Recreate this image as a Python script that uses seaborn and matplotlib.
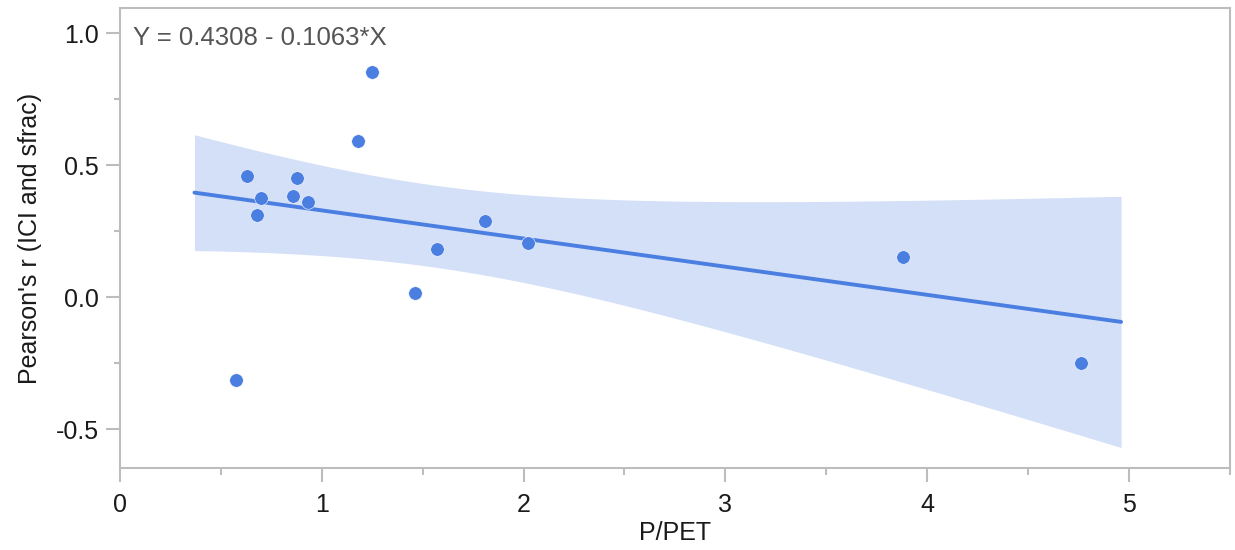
import matplotlib
matplotlib.use("Agg")
import matplotlib.pyplot as plt
from matplotlib.ticker import MultipleLocator
import numpy as np
import pandas as pd
import seaborn as sns

# values
p_pet = [0.575, 0.63, 0.70, 0.68, 0.86, 0.88, 0.93, 1.18, 1.25,
         1.46, 1.57, 1.81, 2.02, 3.88, 4.76]
pearson_r = [-0.314, 0.458, 0.374, 0.312, 0.382, 0.450, 0.360, 0.592,
             0.852, 0.014, 0.183, 0.289, 0.204, 0.152, -0.250]
equation = "Y = 0.4308 - 0.1063*X"
x_ticks = [0, 1, 2, 3, 4, 5]
y_ticks = [-0.5, 0.0, 0.5, 1.0]

POINT_COLOR = "#4a7ee0"
BAND_COLOR = "#d3e0f7"
AXIS_COLOR = "#bdbdbd"


def fit_with_ci(x, y, xs, t_crit=2.160):
    """Least-squares line plus 95% confidence band of the mean."""
    x = np.asarray(x)
    y = np.asarray(y)
    slope, intercept = np.polyfit(x, y, 1)
    resid = y - (intercept + slope * x)
    n = len(x)
    s = np.sqrt(np.sum(resid ** 2) / (n - 2))
    sxx = np.sum((x - x.mean()) ** 2)
    yhat = intercept + slope * xs
    half = t_crit * s * np.sqrt(1 / n + (xs - x.mean()) ** 2 / sxx)
    return yhat, yhat - half, yhat + half


def main():
    sns.set_style("white")
    plt.rcParams["font.family"] = ["Liberation Sans", "DejaVu Sans"]

    df = pd.DataFrame({"P/PET": p_pet, "r": pearson_r})

    fig, ax = plt.subplots(figsize=(12.35, 5.5), dpi=100)
    fig.subplots_adjust(left=0.097, right=0.996, bottom=0.149, top=0.985)

    xs = np.linspace(0.37, 4.96, 200)
    yhat, lo, hi = fit_with_ci(df["P/PET"], df["r"], xs)
    ax.fill_between(xs, lo, hi, color=BAND_COLOR, lw=0, zorder=1)
    sns.lineplot(x=xs, y=yhat, ax=ax, color=POINT_COLOR, lw=2.8, zorder=2)
    sns.scatterplot(data=df, x="P/PET", y="r", ax=ax, color=POINT_COLOR,
                    s=95, edgecolor="white", linewidth=0.4, zorder=3)

    ax.set_xlim(0, 5.5)
    ax.set_ylim(-0.648, 1.095)
    ax.set_xticks(x_ticks)
    ax.set_yticks(y_ticks)
    ax.set_yticklabels([f"{v:.1f}" for v in y_ticks])
    ax.xaxis.set_minor_locator(MultipleLocator(0.5))
    ax.yaxis.set_minor_locator(MultipleLocator(0.25))

    for sp in ax.spines.values():
        sp.set_color(AXIS_COLOR)
        sp.set_linewidth(1.5)
    ax.tick_params(which="both", direction="out", color=AXIS_COLOR,
                   width=1.5, labelsize=18, labelcolor="#1a1a1a")
    ax.tick_params(axis="x", which="major", length=10, pad=8)
    ax.tick_params(axis="x", which="minor", length=5)
    ax.tick_params(axis="y", which="major", length=10, pad=5)
    ax.tick_params(axis="y", which="minor", length=4)
    ax.tick_params(bottom=True, left=True, which="both")

    ax.set_xlabel("P/PET", fontsize=18, color="#1a1a1a", labelpad=3)
    ax.set_ylabel("Pearson's r (ICI and sfrac)", fontsize=18,
                  color="#1a1a1a", labelpad=10)

    ax.text(0.012, 0.935, equation, transform=ax.transAxes, fontsize=18.5,
            color="#555555", ha="left", va="center")

    plt.savefig("out.png", dpi=100)


if __name__ == "__main__":
    main()
